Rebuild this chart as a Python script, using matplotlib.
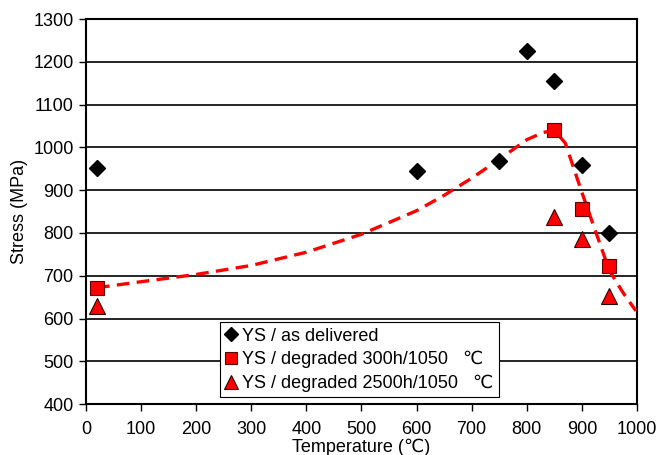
import matplotlib
matplotlib.use("Agg")
import matplotlib.pyplot as plt
from matplotlib.lines import Line2D

plt.rcParams['font.family'] = ['Liberation Sans', 'DejaVu Sans']

# Yield strength measurements
temp_delivered = [20, 600, 750, 800, 850, 900, 950]
ys_delivered = [952, 944, 968, 1225, 1155, 958, 800]

temp_300h = [20, 850, 900, 950]
ys_300h = [672, 1040, 855, 722]

temp_2500h = [20, 850, 900, 950]
ys_2500h = [630, 838, 787, 652]

# Trend line for the 300h degraded state
trend_temp = [20, 100, 200, 300, 400, 500, 600, 650, 700, 750, 800, 830, 850, 870, 900, 930, 950, 975, 998]
trend_ys = [672, 686, 703, 724, 755, 797, 852, 888, 928, 972, 1018, 1035, 1040, 1010, 895, 785, 712, 660, 618]

x_ticks = list(range(0, 1001, 100))
y_ticks = list(range(400, 1301, 100))

fig = plt.figure(figsize=(6.58, 4.55), dpi=100)
ax = fig.add_axes([0.1307, 0.112, 0.8373, 0.846])

ax.set_xlim(0, 1000)
ax.set_ylim(400, 1300)
ax.set_xticks(x_ticks)
ax.set_yticks(y_ticks)
ax.tick_params(direction='out', length=5, width=1, labelsize=13, colors='black', pad=4)
ax.tick_params(axis='x', pad=7)

for y in y_ticks[1:]:
    ax.axhline(y, color='black', linewidth=1.2, zorder=1)
for s in ax.spines.values():
    s.set_linewidth(1.5)
    s.set_color('black')

ax.plot(trend_temp, trend_ys, color='#ff0000', linestyle=(0, (3.8, 2.2)), linewidth=2.4, zorder=3)

ax.plot(temp_delivered, ys_delivered, linestyle='none', marker='D', markersize=8.5,
        markerfacecolor='black', markeredgecolor='black', zorder=4)
ax.plot(temp_300h, ys_300h, linestyle='none', marker='s', markersize=10.5,
        markerfacecolor='#ff0000', markeredgecolor='#600000', markeredgewidth=0.8, zorder=4)
ax.plot(temp_2500h, ys_2500h, linestyle='none', marker='^', markersize=11.5,
        markerfacecolor='#ff0000', markeredgecolor='#300000', markeredgewidth=0.8, zorder=4)

ax.set_xlabel('Temperature (\u2103)', fontsize=13, va='center')
ax.xaxis.set_label_coords(0.5, -0.113)
ax.set_ylabel('Stress (MPa)', fontsize=13, labelpad=4)

handles = [
    Line2D([], [], linestyle='none', marker='D', markersize=7, markerfacecolor='black', markeredgecolor='black'),
    Line2D([], [], linestyle='none', marker='s', markersize=9, markerfacecolor='#ff0000', markeredgecolor='#600000', markeredgewidth=0.8),
    Line2D([], [], linestyle='none', marker='^', markersize=10, markerfacecolor='#ff0000', markeredgecolor='#300000', markeredgewidth=0.8),
]
labels = ['YS / as delivered', 'YS / degraded 300h/1050   \u2103', 'YS / degraded 2500h/1050   \u2103']
leg = ax.legend(handles, labels, loc='lower left', bbox_to_anchor=(0.244, 0.017),
                fontsize=13, frameon=True, fancybox=False, framealpha=1,
                edgecolor='black', handlelength=0.6, handletextpad=0.3,
                borderpad=0.3, labelspacing=0.35, borderaxespad=0)
leg.get_frame().set_linewidth(0.8)
leg.set_zorder(5)

fig.savefig('out.png', dpi=100)
